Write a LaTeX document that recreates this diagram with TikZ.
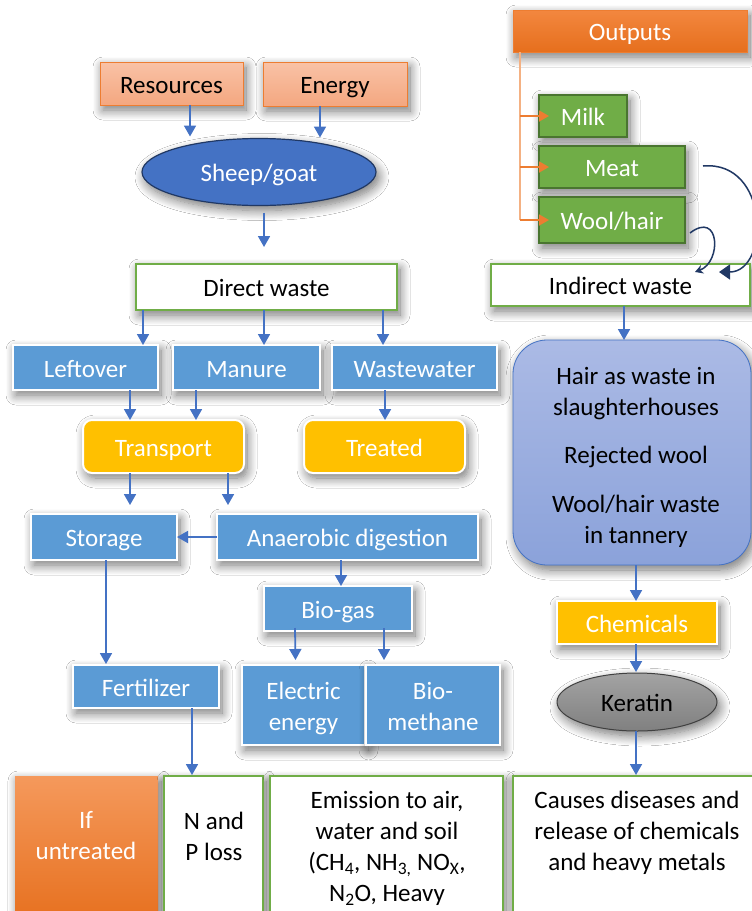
\documentclass[tikz,border=0pt]{standalone}
\usepackage{fontspec}
\setmainfont{Carlito}
\usetikzlibrary{shapes.geometric,arrows.meta,shadows.blur,calc}

\definecolor{cblue}{HTML}{5B9BD5}
\definecolor{carrow}{HTML}{4472C4}
\definecolor{cgold}{HTML}{FFC000}
\definecolor{cgreen}{HTML}{70AD47}
\definecolor{cdkgreen}{HTML}{4A7530}
\definecolor{corange}{HTML}{ED7D31}
\definecolor{corangeA}{HTML}{F3873F}
\definecolor{corangeB}{HTML}{E66F1D}
\definecolor{corline}{HTML}{F4B183}
\definecolor{cnavy}{HTML}{203864}
\definecolor{csalA}{HTML}{F9C2A6}
\definecolor{csalB}{HTML}{F4A780}
\definecolor{cpurA}{HTML}{ABBAE5}
\definecolor{cpurB}{HTML}{8BA2DA}
\definecolor{cgreyA}{HTML}{A3A3A3}
\definecolor{cgreyB}{HTML}{808080}

\tikzset{
  lbl/.style={font=\fontsize{25}{31}\selectfont, align=center,
              inner sep=0pt, outer sep=0pt},
  oneline/.style={text height=22pt, text depth=2.4pt},
  sz/.style 2 args={minimum width=#1pt, minimum height=#2pt},
  shade box/.style={blur shadow={shadow xshift=3pt, shadow yshift=-5pt,
              shadow blur radius=10pt, shadow blur steps=12, shadow opacity=55}},
  box/.style={lbl, oneline, rectangle, anchor=north west, shade box},
  salmon/.style={box, top color=csalA, bottom color=csalB, draw=corange, line width=0.8pt},
  bluebox/.style={box, fill=cblue, draw=white, line width=2pt, text=white},
  goldbox/.style={box, fill=cgold, draw=white, line width=2pt, text=white},
  greenbox/.style={box, fill=cgreen, draw=cdkgreen, line width=1.2pt, text=white},
  wastebox/.style={box, fill=white, draw=cgreen, line width=1.5pt},
  endbox/.style={box, fill=white, draw=cgreen, line width=2pt},
  arr/.style={draw=carrow, line width=1.8pt, -{Triangle[width=12pt,length=11pt]}},
  orarr/.style={draw=corange, line width=1.8pt, -{Triangle[width=11pt,length=10pt]}},
  loopline/.style={draw=cnavy, line width=1.5pt}
}

\begin{document}
\begin{tikzpicture}[x=1pt,y=-1pt]

\fill[white] (0,0) rectangle (752,911);
\clip (0,0) rectangle (752,911);

% ---------- left branch: inputs and direct waste ----------
\node[salmon, sz={143}{43}] (res) at (100,62) {Resources};
\node[salmon, sz={144}{44}] (en) at (263,62) {Energy};
\node[lbl, oneline, ellipse, shade box, fill=carrow, draw=cnavy, line width=1.2pt,
      text=white, sz={234}{67}] (sheep) at (259,172) {Sheep/goat};

\node[wastebox, sz={261}{46}] (direct) at (136,264) {Direct waste};

\node[bluebox, sz={145}{45}] (left) at (13,345) {Leftover};
\node[bluebox, sz={147}{45}] (man) at (173,345) {Manure};
\node[bluebox, sz={165}{45}] (ww) at (332,345) {Wastewater};

\node[goldbox, rounded corners=9pt, sz={161}{53}] (trans) at (83,420) {Transport};
\node[goldbox, rounded corners=9pt, sz={161}{53}] (treat) at (304,420) {Treated};

\node[bluebox, sz={146}{46}] (stor) at (31,514) {Storage};
\node[bluebox, sz={261}{46}] (ana) at (217,514) {Anaerobic digestion};
\node[bluebox, sz={148}{45}] (bio) at (264,586) {Bio-gas};

\node[bluebox, sz={146}{43}] (fert) at (73,665) {Fertilizer};
\node[bluebox, text height=53.4pt, sz={123}{80}] (elec) at (242,665) {Electric\\energy};
\node[bluebox, text height=53.4pt, sz={134}{80}] (meth) at (366,665) {Bio-\\methane};

% ---------- right branch: outputs and indirect waste ----------
\node[box, top color=corangeA, bottom color=corangeB, draw=corange,
      text=white, sz={234}{42}] (outp) at (513,10) {Outputs};
\node[greenbox, sz={88}{42}] (milk) at (539,95) {Milk};
\node[greenbox, sz={146}{42}] (meat) at (539,146) {Meat};
\node[greenbox, sz={146}{46}] (wool) at (539,197) {Wool/hair};

\node[wastebox, sz={259}{42}] (ind) at (491,264) {Indirect waste};

\node[box, rounded corners=34pt, top color=cpurA, bottom color=cpurB,
      draw=carrow, line width=0.8pt, sz={238}{225}] (big) at (513,340) {};
\node[lbl] (bt1) at (636,393.5) {Hair as waste in\\slaughterhouses};
\node[lbl] (bt2) at (636,457) {Rejected wool};
\node[lbl] (bt3) at (636,521.5) {Wool/hair waste\\in tannery};

\node[goldbox, sz={160}{43}] (chem) at (557,601) {Chemicals};
\node[lbl, oneline, ellipse, shade box, top color=cgreyA, bottom color=cgreyB,
      draw=black!75, line width=1pt, sz={160}{58}] (ker) at (637,702) {Keratin};

% ---------- consequences row ----------
\node[box, top color=corangeA!85!white, bottom color=corangeB,
      sz={143}{150}] (untr) at (15,776) {};
\node[endbox, sz={99}{150}] (np) at (164,776) {};
\node[endbox, sz={233}{150}] (emis) at (270,776) {};
\node[endbox, sz={248}{150}] (caus) at (513,776) {};

\node[lbl, text=white] (untrt) at (86,836) {If\\untreated};
\node[lbl] (npt) at (214,836) {N and\\P loss};
\node[lbl] (emt) at (387,848.5) {Emission to air,\\water and soil\\
  (CH\textsubscript{4}, NH\textsubscript{3,} NO\textsubscript{X},\\N\textsubscript{2}O, Heavy};
\node[lbl] (caust) at (637,833) {Causes diseases and\\release of chemicals\\and heavy metals};

% ---------- connectors ----------
\draw[arr] ([xshift=18.5pt]res.south) -- ([xshift=-69pt,yshift=2pt]sheep.north);
\draw[arr] ([xshift=-15pt]en.south) -- ([xshift=61pt,yshift=1pt]sheep.north);
\draw[arr] ([xshift=5pt,yshift=-7pt]sheep.south) -- ([xshift=-2.5pt,yshift=17pt]direct.north);

\draw[arr] ([xshift=-123.5pt]direct.south) -- ([xshift=57.5pt]left.north);
\draw[arr] ([xshift=-2.5pt]direct.south) -- ([xshift=17.5pt]man.north);
\draw[arr] ([xshift=116.5pt]direct.south) -- ([xshift=-31.5pt]ww.north);

\draw[arr] ([xshift=44.5pt]left.south) -- ([xshift=-33.5pt]trans.north);
\draw[arr] ([xshift=-50.5pt]man.south) -- ([xshift=32.5pt]trans.north);
\draw[arr] ([xshift=-29.5pt]ww.south) -- ([xshift=0.5pt]treat.north);

\draw[arr] ([xshift=-33.5pt]trans.south) -- ([xshift=26pt,yshift=9pt]stor.north);
\draw[arr] ([xshift=64.5pt]trans.south) -- ([xshift=-119.5pt,yshift=9pt]ana.north);
\draw[arr] (ana.west) -- (stor.east);
\draw[arr] ([xshift=-6.5pt]ana.south) -- ([xshift=3pt]bio.north);

\draw[arr] ([xshift=2pt]stor.south) -- ([xshift=-40pt,yshift=1pt]fert.north);
\draw[arr] ([xshift=-43pt,yshift=3pt]bio.south) -- ([xshift=-8pt,yshift=5pt]elec.north);
\draw[arr] ([xshift=46pt,yshift=3pt]bio.south) -- ([xshift=-49pt,yshift=5pt]meth.north);
\draw[arr] ([xshift=46pt]fert.south) -- ([xshift=-21.5pt,yshift=1pt]np.north);

\draw[arr] ([xshift=3.5pt]ind.south) -- ([xshift=-8pt]big.north);
\draw[arr] ([xshift=4pt]big.south) -- ([xshift=-1pt]chem.north);
\draw[arr] ([xshift=-1pt]chem.south) -- ([xshift=-1pt,yshift=1pt]ker.north);
\draw[arr] ([xshift=-1pt]ker.south) -- ([xshift=-1pt,yshift=1pt]caus.north);

% output tree
\coordinate (trunk) at ([xshift=7pt]outp.south west);
\draw[corline, line width=2pt] (trunk) -- (trunk |- wool.west);
\draw[orarr] (trunk |- milk.west) -- ([xshift=10pt]milk.west);
\draw[orarr] (trunk |- meat.west) -- ([xshift=10pt]meat.west);
\draw[orarr] (trunk |- wool.west) -- ([xshift=10pt]wool.west);

% meat and wool feed the indirect waste
\draw[loopline, -{Triangle[width=15pt,length=11pt]}]
  ([xshift=18pt,yshift=1pt]meat.east) .. controls (770,160) and (770,272) ..
  ([xshift=-31pt,yshift=-8pt]ind.north east);
\draw[loopline, -{Stealth[width=9pt,length=8pt]}]
  ([xshift=5pt,yshift=-13pt]wool.east) .. controls (720,210) and (722,262) ..
  ([xshift=-55pt,yshift=-8pt]ind.north east);
\end{tikzpicture}
\end{document}
